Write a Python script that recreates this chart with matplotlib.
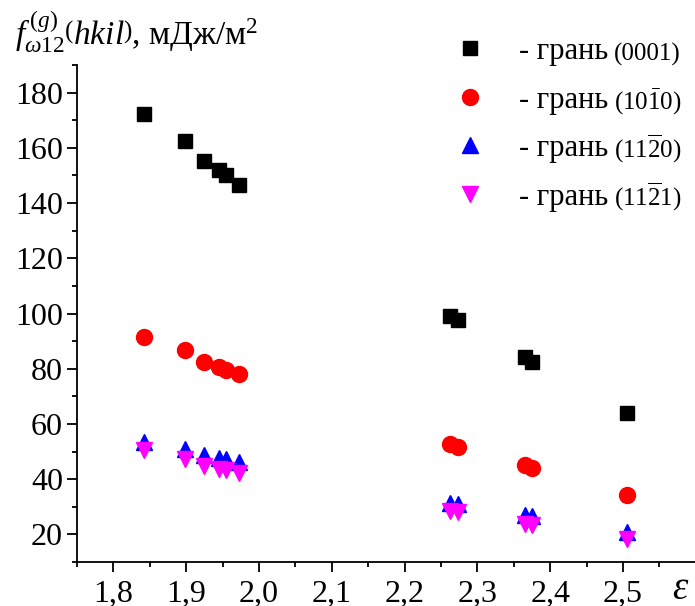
import matplotlib
matplotlib.use('Agg')
import matplotlib.pyplot as plt
from matplotlib.ticker import MultipleLocator, FuncFormatter

plt.rcParams['font.family'] = ['Liberation Serif', 'DejaVu Serif']
plt.rcParams['mathtext.fontset'] = 'custom'
plt.rcParams['mathtext.rm'] = 'Liberation Serif'
plt.rcParams['mathtext.it'] = 'Liberation Serif:italic'

# strain values (x)
eps = [1.842, 1.899, 1.925, 1.945, 1.955, 1.973, 2.263, 2.273, 2.366, 2.375, 2.506]

# surface energy per face, mJ/m^2
face_0001 = [172.3, 162.6, 155.4, 151.9, 150.1, 146.7, 99.0, 97.6, 84.2, 82.6, 64.1]
face_1010 = [91.4, 86.6, 82.6, 80.7, 79.7, 78.2, 52.8, 51.7, 45.0, 43.9, 34.2]
face_1120 = [53.3, 50.9, 48.8, 47.7, 47.4, 46.2, 31.4, 31.1, 26.9, 26.7, 20.7]
face_1121 = [50.4, 47.2, 44.6, 43.7, 43.5, 42.4, 28.3, 28.1, 23.6, 23.5, 18.2]

labels = ['- грань', '- грань', '- грань', '- грань']
indices = ['(0001)', r'(10$\bar{\mathrm{1}}$0)', r'(11$\overline{\mathrm{2}}$0)', r'(11$\overline{\mathrm{2}}$1)']

fig = plt.figure(figsize=(6.95, 6.06), dpi=100)
ax = fig.add_axes([77 / 695, 1 - 562 / 606, 618 / 695, 497 / 606])

h1, = ax.plot(eps, face_0001, 's', color='black', markersize=10, linestyle='none', label=labels[0])
h2, = ax.plot(eps, face_1010, 'o', color='red', markersize=11.5, linestyle='none', label=labels[1])
h3, = ax.plot(eps, face_1120, '^', color='blue', markersize=12, linestyle='none', label=labels[2])
h4, = ax.plot(eps, face_1121, 'v', color='magenta', markersize=12, linestyle='none', label=labels[3])

ax.set_xlim(1.75, 2.599)
ax.set_ylim(10, 190)

ax.xaxis.set_major_locator(MultipleLocator(0.1))
ax.xaxis.set_minor_locator(MultipleLocator(0.05))
ax.yaxis.set_major_locator(MultipleLocator(20))
ax.yaxis.set_minor_locator(MultipleLocator(10))
ax.xaxis.set_major_formatter(FuncFormatter(lambda v, p: f'{v:.1f}'.replace('.', ',')))

for side in ['top', 'right']:
    ax.spines[side].set_visible(False)
for side in ['left', 'bottom']:
    ax.spines[side].set_linewidth(1.3)

ax.tick_params(which='major', direction='out', length=7, width=1.3, labelsize=23, pad=3,
               labelfontfamily='Liberation Serif')
ax.tick_params(which='minor', direction='out', length=3.5, width=1.3)
ax.tick_params(axis='x', which='major', pad=6)

# axis captions
fig.text(680 / 695, 1 - 599 / 606, 'ε', fontsize=28, style='italic', ha='center', va='baseline')
fig.text(15 / 695, 1 - 45 / 606,
         r'$f^{\,(g)}_{\omega 12}\left(hkil\right)$, мДж/м$^{\mathrm{2}}$',
         fontsize=24, ha='left', va='baseline')

# legend
leg = ax.legend(handles=[h1, h2, h3, h4], loc='upper left',
                bbox_to_anchor=(455 / 695, 1 - 37 / 606), bbox_transform=fig.transFigure,
                frameon=False, fontsize=22, handlelength=0.95, handletextpad=1.15,
                labelspacing=0.64, borderpad=0, borderaxespad=0, numpoints=1)
fig.canvas.draw()
for txt, idx in zip(leg.get_texts(), indices):
    ax.annotate(idx, xy=(1, 0.2), xycoords=txt, xytext=(4, 0), textcoords='offset points',
                fontsize=18, ha='left', va='baseline', zorder=10)

plt.savefig('out.png', dpi=100)
